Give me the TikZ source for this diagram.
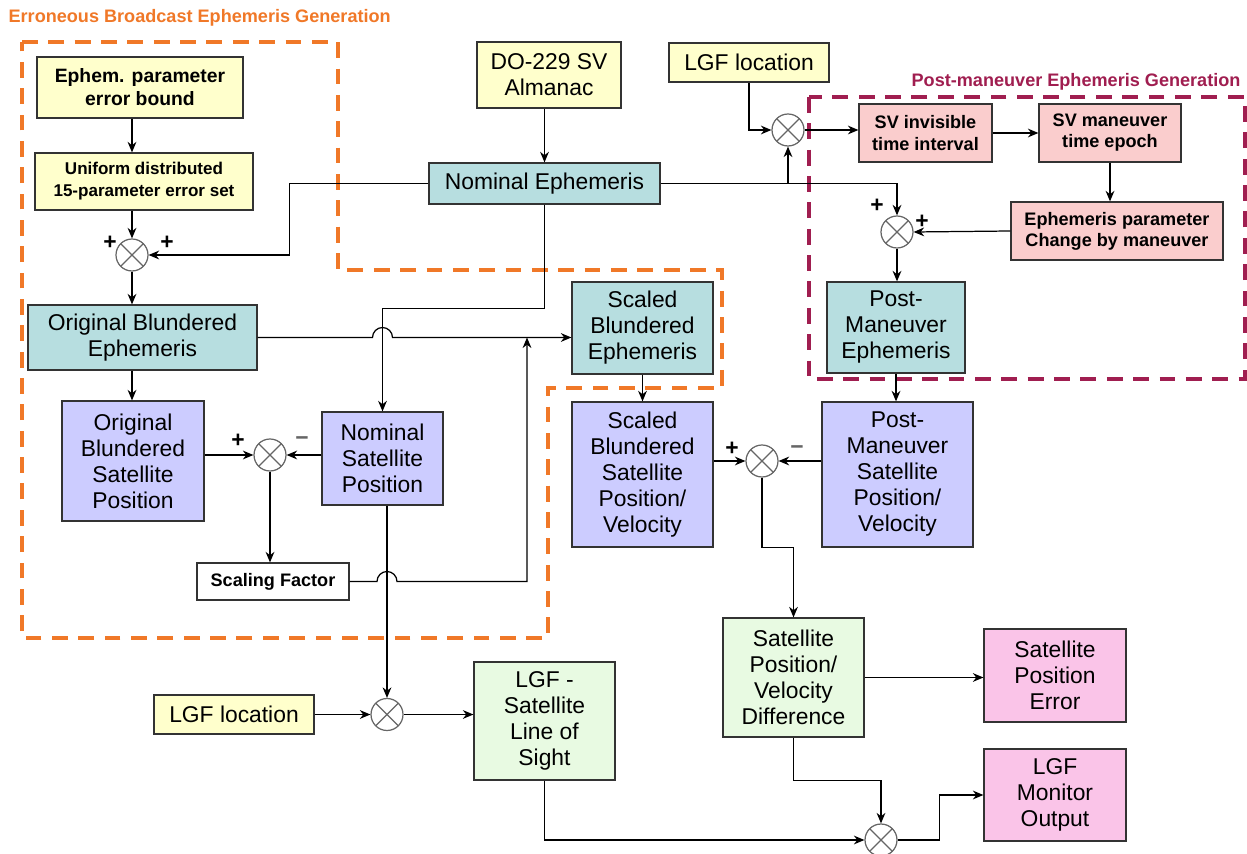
\documentclass[tikz,border=0pt]{standalone}
\usepackage{fontspec}
\setmainfont{Liberation Sans}
\usetikzlibrary{arrows.meta,calc}

\definecolor{yellowfill}{RGB}{255,255,204}
\definecolor{tealfill}{RGB}{183,222,224}
\definecolor{lavfill}{RGB}{204,204,255}
\definecolor{salmonfill}{RGB}{250,205,205}
\definecolor{greenfill}{RGB}{232,250,226}
\definecolor{pinkfill}{RGB}{250,196,232}
\definecolor{dashorange}{RGB}{240,120,40}
\definecolor{dashmaroon}{RGB}{160,30,80}

\tikzset{
  blockbox/.style={draw=black!80,line width=0.7pt,align=center,inner sep=1pt,font=\fontsize{13}{14.8}\selectfont},
  smallbox/.style={blockbox,font=\fontsize{10.3}{12}\selectfont\bfseries},
  wh/.style 2 args={minimum width=#1*0.02cm,minimum height=#2*0.02cm},
  sumnode/.style={circle,draw=black!60,fill=white,minimum size=0.64cm,inner sep=0pt,
    path picture={\draw[black!60] (path picture bounding box.north west)--(path picture bounding box.south east)
      (path picture bounding box.north east)--(path picture bounding box.south west);}},
  sign/.style={font=\fontsize{13}{13}\selectfont\bfseries,inner sep=0pt},
  region/.style={line width=1.8pt,dash pattern=on 9pt off 6pt}
}

\begin{document}
\begin{tikzpicture}[x=0.02cm,y=-0.02cm,>={Stealth[length=6pt,width=5pt]},line width=0.7pt]
\useasboundingbox (0,0) rectangle (1247,854);

% dashed regions
\draw[region,dashorange] (22,42) -- (338,42) -- (338,270) -- (722,270) -- (722,388)
  -- (548,388) -- (548,638) -- (22,638) -- cycle;
\draw[region,dashmaroon] (809,97) rectangle (1245,379);
\node[anchor=west,text=dashorange,font=\fontsize{10.3}{12}\selectfont\bfseries,inner sep=0pt] (ebtitle) at (8,18) {Erroneous Broadcast Ephemeris Generation};
\node[anchor=west,text=dashmaroon,font=\fontsize{10.3}{12}\selectfont\bfseries,inner sep=0pt] (pmtitle) at (911,82) {Post-maneuver Ephemeris Generation};

% left part
\node[smallbox,fill=yellowfill,wh={206}{61},font=\fontsize{11}{13}\selectfont\bfseries] (ebound) at (140,87.5) {Ephem. parameter\\error bound};
\node[smallbox,fill=yellowfill,wh={218}{57},font=\fontsize{9.7}{12.5}\selectfont\bfseries] (errset) at (144,181.5) {Uniform distributed\\15-parameter error set};
\node[sumnode] (sum1) at (132,255) {};
\node[blockbox,fill=tealfill,wh={229}{65}] (obe) at (142.5,337.5) {Original Blundered\\Ephemeris};
\node[blockbox,fill=lavfill,wh={142}{120}] (obsp) at (133,461) {Original\\Blundered\\Satellite\\Position};
\node[sumnode] (sum2) at (270,455) {};
\node[blockbox,fill=lavfill,wh={121}{93}] (nsp) at (382.5,458.5) {Nominal\\Satellite\\Position};
\node[smallbox,fill=white,wh={152}{37}] (sf) at (273,581.5) {Scaling Factor};
\node[blockbox,fill=yellowfill,wh={160}{39}] (lgf2) at (234,714.5) {LGF location};
\node[sumnode] (sum6) at (387,714.5) {};
\node[blockbox,fill=greenfill,wh={141}{118}] (los) at (544.5,721) {LGF -\\Satellite\\Line of\\Sight};

% top and right part
\node[blockbox,fill=yellowfill,wh={144}{66}] (do229) at (549,75) {DO-229 SV\\Almanac};
\node[blockbox,fill=yellowfill,wh={160}{39}] (lgf1) at (749,62.5) {LGF location};
\node[blockbox,fill=tealfill,wh={231}{41}] (nom) at (544.5,183.5) {Nominal Ephemeris};
\node[sumnode] (sum3) at (788,130) {};
\node[smallbox,fill=salmonfill,wh={133}{58}] (svinv) at (925.5,133) {SV invisible\\time interval};
\node[smallbox,fill=salmonfill,wh={142}{58}] (svepoch) at (1110,133) {SV maneuver\\time epoch};
\node[smallbox,fill=salmonfill,wh={212}{58}] (change) at (1117,231) {Ephemeris parameter\\Change by maneuver};
\node[sumnode] (sum4) at (897,232) {};
\node[blockbox,fill=tealfill,wh={138}{91}] (pme) at (896,327.5) {Post-\\Maneuver\\Ephemeris};
\node[blockbox,fill=lavfill,wh={151}{145}] (pmsp) at (897.5,474.5) {Post-\\Maneuver\\Satellite\\Position/\\Velocity};
\node[blockbox,fill=tealfill,wh={141}{92}] (sbe) at (642.5,328) {Scaled\\Blundered\\Ephemeris};
\node[blockbox,fill=lavfill,wh={141}{145}] (sbsp) at (642.5,474.5) {Scaled\\Blundered\\Satellite\\Position/\\Velocity};
\node[sumnode] (sum5) at (762,461) {};
\node[blockbox,fill=greenfill,wh={141}{119}] (diff) at (793.5,677.5) {Satellite\\Position/\\Velocity\\Difference};
\node[blockbox,fill=pinkfill,wh={142}{93}] (poserr) at (1055,675.5) {Satellite\\Position\\Error};
\node[blockbox,fill=pinkfill,wh={142}{92}] (monout) at (1055,795) {LGF\\Monitor\\Output};
\node[sumnode] (sum7) at (881,840) {};
\coordinate (join) at (527,337.5);

% signs
\node[sign] (s1a) at (110,243) {+};
\node[sign] (s1b) at (167,243) {+};
\node[sign] (s2a) at (238,441) {+};
\node[sign,text=black!60] (s2b) at (302,441) {−};
\node[sign] (s4a) at (877,206) {+};
\node[sign] (s4b) at (922,222) {+};
\node[sign] (s5a) at (732,449) {+};
\node[sign,text=black!60] (s5b) at (797,450) {−};

% connectors
\draw[->] (ebound.south -| sum1) -- (errset.north -| sum1);
\draw[->] (errset.south -| sum1) -- (sum1.north);
\draw[->] (nom.west) -- ++(-139,0) |- (sum1.east);
\draw[->] (sum1.south) -- (obe.north -| sum1);
\draw[->] (obe.south -| sum1) -- (obsp.north -| sum1);
\draw[->] (do229.south -| nom.north) -- (nom.north);
\draw[->] (lgf1.south) |- (sum3.west);
\draw[->] (nom.east -| sum3) -- (sum3.south);
\draw[->] (nom.east) -| (sum4.north);
\draw[->] (sum3.east) -- (svinv.west |- sum3);
\draw[->] (svinv.east) -- (svepoch.west);
\draw[->] (svepoch.south) -- (change.north -| svepoch.south);
\draw[->] (change.west) -- (sum4.east);
\draw[->] (sum4.south) -- (pme.north -| sum4.south);
\draw[->] (pme.south) -- (pmsp.north -| pme.south);
\draw[->] (nom.south) -- ++(0,104) -| (nsp.north);
\draw[->] (obe.east) -- ($(obe.east -| nsp.north)+(-10,0)$) arc[start angle=180,end angle=0,radius=0.2cm] -- (obe.east -| sbe.west);
\draw[->] (sf.east) -- ($(sf.east -| sum6.north)+(-10,0)$) arc[start angle=180,end angle=0,radius=0.2cm] -| (join);
\draw[->] (obsp.east |- sum2) -- (sum2.west);
\draw[->] (nsp.west |- sum2) -- (sum2.east);
\draw[->] (sum2.south) -- (sf.north -| sum2.south);
\draw[->] (nsp.south -| sum6) -- (sum6.north);
\draw[->] (lgf2.east) -- (sum6.west);
\draw[->] (sum6.east) -- (los.west |- sum6);
\draw[->] (sbe.south) -- (sbsp.north);
\draw[->] (sbsp.east |- sum5) -- (sum5.west);
\draw[->] (pmsp.west |- sum5) -- (sum5.east);
\draw[->] (sum5.south) -- (sum5 |- sbsp.south) -| (diff.north);
\draw[->] (diff.east) -- (poserr.west |- diff.east);
\draw[->] (los.south) |- (sum7.west);
\draw[->] (diff.south) -- ++(0,43) -| (sum7.north);
\draw[->] (sum7.east) -- ++(42,0) |- (monout.west);
\end{tikzpicture}
\end{document}
